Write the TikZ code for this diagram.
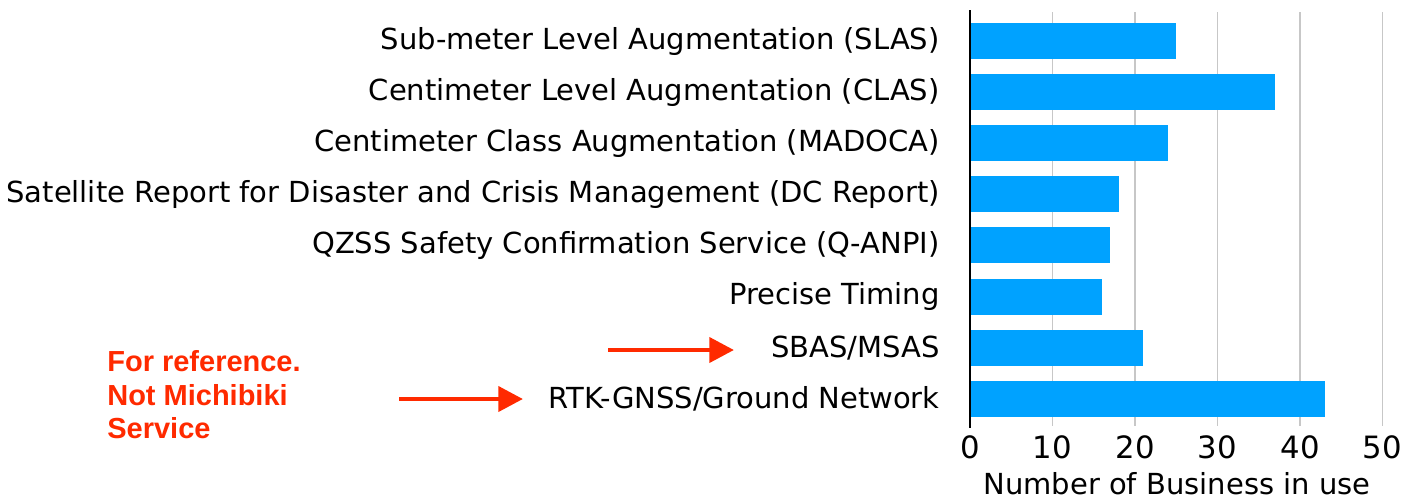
\documentclass[tikz,border=0pt]{standalone}
\usepackage{fontspec}
\setmainfont{DejaVu Sans}
\newfontfamily\notefont{Liberation Sans}
\usetikzlibrary{arrows.meta}
\definecolor{barblue}{HTML}{00A2FF}
\definecolor{notered}{HTML}{FF2A00}
\begin{document}
\begin{tikzpicture}[x=0.02cm, y=-0.02cm, every node/.style={font=\fontsize{16.5}{19}\selectfont}, lab/.style={anchor=east,inner sep=0pt}, grid/.style={draw=black!22,line width=1pt}, bar/.style={fill=barblue}, tick/.style={anchor=base,inner sep=0pt}, ptr/.style={notered,line width=2.8pt,-{Triangle[length=14pt,width=14pt]}}]
\useasboundingbox (0,0) rectangle (1419,501);
% grid and bars
\foreach \k in {1,...,5} \draw[grid] ({970+82.5*\k},12) -- ({970+82.5*\k},426);
\foreach \v [count=\i from 0] in {25,37,24,18,17,16,21,43} \fill[bar] (970,{23+51.1*\i}) rectangle ({970+8.25*\v},{59+51.1*\i});
\draw[line width=1.6pt] (970,10) -- (970,428);
% category labels
\node[lab] (slas) at (940,41) {Sub-meter Level Augmentation (SLAS)};
\node[lab] (clas) at (940,92) {Centimeter Level Augmentation (CLAS)};
\node[lab] (madoca) at (940,143) {Centimeter Class Augmentation (MADOCA)};
\node[lab] (dcr) at (940,194) {Satellite Report for Disaster and Crisis Management (DC Report)};
\node[lab] (qanpi) at (940,245) {QZSS Safety Confirmation Service (Q-ANPI)};
\node[lab] (timing) at (940,296) {Precise Timing};
\node[lab] (sbas) at (940,348) {SBAS/MSAS};
\node[lab] (rtk) at (940,399) {RTK-GNSS/Ground Network};
% axis ticks and title
\foreach \k [count=\j from 0] in {0,10,20,30,40,50} \node[tick,font=\fontsize{17.5}{19}\selectfont] (t\k) at ({970+82.5*\j},458) {\k};
\node[tick] (xtitle) at (1177,494) {Number of Business in use};
% note and pointers
\node[align=left,anchor=west,inner sep=0pt,text=notered,font=\notefont\bfseries\fontsize{16.5}{19}\selectfont] (note) at (107,395) {For reference.\\Not Michibiki\\Service};
\coordinate (p1) at (608,350); \coordinate (q1) at (734,350);
\coordinate (p2) at (399,399); \coordinate (q2) at (523,399);
\draw[ptr] (p1) -- (q1);
\draw[ptr] (p2) -- (q2);
\end{tikzpicture}
\end{document}
